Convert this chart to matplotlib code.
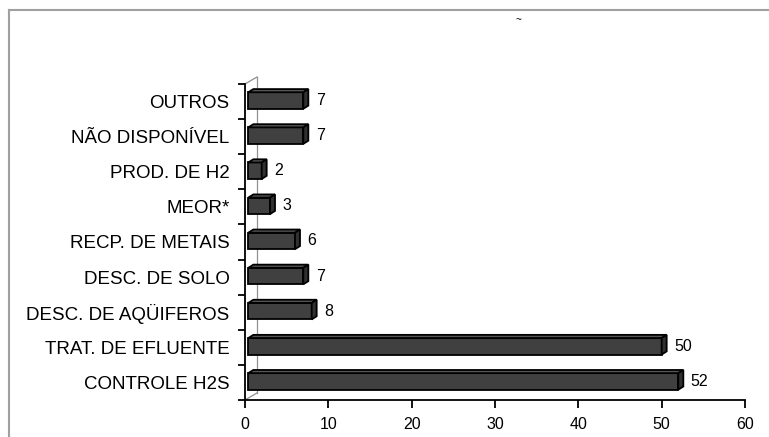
import matplotlib
matplotlib.use('Agg')

import matplotlib.pyplot as plt
from matplotlib.patches import Polygon
from matplotlib.lines import Line2D

# Applications, bottom to top
categories = ["CONTROLE H2S", "TRAT. DE EFLUENTE", "DESC. DE AQÜIFEROS", "DESC. DE SOLO",
              "RECP. DE METAIS", "MEOR*", "PROD. DE H2", "NÃO DISPONÍVEL", "OUTROS"]
counts = [52, 50, 8, 7, 6, 3, 2, 7, 7]
x_ticks = [0, 10, 20, 30, 40, 50, 60]

plt.rcParams['font.family'] = ['Liberation Sans', 'DejaVu Sans']

fig = plt.figure(figsize=(7.69, 4.37), dpi=100)
ax = fig.add_axes([245 / 769, 37 / 437, 500 / 769, 316 / 437])
ax.set_xlim(0, 60)
ax.set_ylim(-0.5, len(categories) - 0.5)

# pseudo-3D bars: front face, top face and right face
dx, dy = 0.6, 0.09
h = 0.47
x0 = 0.4
for i, v in enumerate(counts):
    yc = i + 0.03
    lo, hi = yc - h / 2, yc + h / 2
    front = Polygon([(x0, lo), (v, lo), (v, hi), (x0, hi)], closed=True,
                    facecolor='#404040', edgecolor='black', lw=1.3, zorder=3)
    top = Polygon([(x0, hi), (v, hi), (v + dx, hi + dy), (x0 + dx, hi + dy)], closed=True,
                  facecolor='#555555', edgecolor='black', lw=1.3, zorder=3)
    side = Polygon([(v, lo), (v + dx, lo + dy), (v + dx, hi + dy), (v, hi)], closed=True,
                   facecolor='#303030', edgecolor='black', lw=1.3, zorder=3)
    for p in (front, top, side):
        ax.add_patch(p)
    ax.text(v + 1.5, yc, str(v), ha='left', va='center', fontsize=11.5, color='black')

# back wall edges
wx, wy = 1.44, 0.2
ax.plot([0, wx], [-0.5, -0.5 + wy], color='#909090', lw=0.9, clip_on=False, zorder=1)
ax.plot([wx, wx], [-0.5 + wy, 8.5 + wy], color='#909090', lw=0.9, clip_on=False, zorder=1)
ax.plot([0, wx], [8.5, 8.5 + wy], color='#909090', lw=0.9, clip_on=False, zorder=1)

for s in ('top', 'right'):
    ax.spines[s].set_visible(False)
for s in ('left', 'bottom'):
    ax.spines[s].set_color('black')
    ax.spines[s].set_linewidth(1.3)

ax.set_xticks(x_ticks)
ax.tick_params(axis='x', direction='out', length=6, width=1.3, labelsize=11.5, pad=6)
ax.set_yticks(range(len(categories)))
ax.set_yticklabels(categories, fontsize=13.5)
ax.set_yticks([i - 0.5 for i in range(len(categories) + 1)], minor=True)
ax.tick_params(axis='y', which='major', length=0, pad=11)
ax.tick_params(axis='y', which='minor', direction='out', length=5, width=1.3)

# outer chart frame
fig.add_artist(Line2D([9 / 769, 9 / 769], [0, 1 - 10 / 437], color='#a0a0a0', lw=1.5))
fig.add_artist(Line2D([9 / 769, 1], [1 - 10 / 437, 1 - 10 / 437], color='#a0a0a0', lw=1.5))
fig.text(518 / 769, 1 - 20 / 437, "~", fontsize=7, ha='center', va='center')

fig.savefig('out.png', dpi=100)
